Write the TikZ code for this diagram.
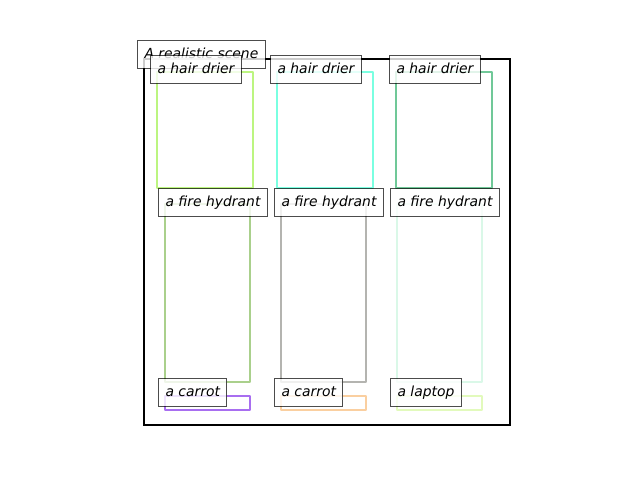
\documentclass[tikz,border=0pt]{standalone}
\usepackage{fontspec}
\setmainfont{DejaVu Sans}
\definecolor{dryerA}{RGB}{188,245,128}
\definecolor{dryerB}{RGB}{122,255,225}
\definecolor{dryerC}{RGB}{112,200,152}
\definecolor{hydrantA}{RGB}{170,208,140}
\definecolor{hydrantB}{RGB}{180,180,176}
\definecolor{hydrantC}{RGB}{218,248,232}
\definecolor{carrotA}{RGB}{168,110,240}
\definecolor{carrotB}{RGB}{250,207,160}
\definecolor{laptopC}{RGB}{226,250,188}
\tikzset{
  objbox/.style={line width=2.6pt, line join=round},
  tag/.style={draw=black, draw opacity=0.7, fill=white, fill opacity=0.8, text opacity=1,
    line width=1pt, anchor=north west, inner xsep=7pt, inner ysep=0pt,
    minimum height=27.5pt, text height=11pt, text depth=3pt,
    font=\fontsize{13.9}{16}\selectfont\itshape}
}
\begin{document}
\begin{tikzpicture}[x=1pt,y=-1pt]
\useasboundingbox (0,0) rectangle (640,480);
\draw [line width=2.4pt] (144,59) rectangle (510,425);
\node [tag] (scene) at (137,40) {A realistic scene};
% hair driers
\draw [objbox, dryerA] (157,72) rectangle (253,188);
\draw [objbox, dryerB] (277,72) rectangle (373,188);
\draw [objbox, dryerC] (396,72) rectangle (492,188);
% fire hydrants
\draw [objbox, hydrantA] (165,204) rectangle (250,382);
\draw [objbox, hydrantB] (281,204) rectangle (366,382);
\draw [objbox, hydrantC] (397,204) rectangle (482,382);
% bottom row
\draw [objbox, carrotA] (165,396) rectangle (250,410);
\draw [objbox, carrotB] (281,396) rectangle (366,410);
\draw [objbox, laptopC] (397,396) rectangle (482,410);
% labels
\node [tag] (drierA) at (150,55) {a hair drier};
\node [tag] (drierB) at (270,55) {a hair drier};
\node [tag] (drierC) at (389,55) {a hair drier};
\node [tag] (hydrantA) at (158,188) {a fire hydrant};
\node [tag] (hydrantB) at (274,188) {a fire hydrant};
\node [tag] (hydrantC) at (390,188) {a fire hydrant};
\node [tag] (carrotA) at (158,378) {a carrot};
\node [tag] (carrotB) at (274,378) {a carrot};
\node [tag] (laptopC) at (390,378) {a laptop};
\end{tikzpicture}
\end{document}
